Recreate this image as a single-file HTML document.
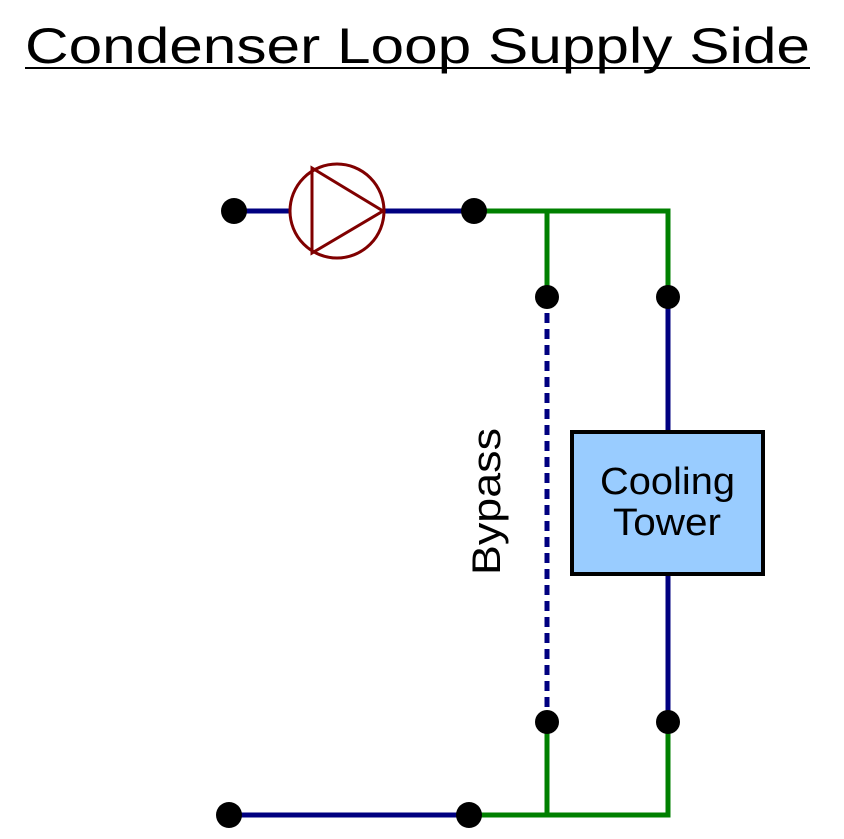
<!DOCTYPE html>
<html><head><style>body{margin:0;background:#fff}svg{display:block}</style></head><body>
<svg width="844" height="839" viewBox="0 0 844 839" xmlns="http://www.w3.org/2000/svg">
<text x="25" y="63" font-family="Liberation Sans, sans-serif" font-size="50" fill="#000" textLength="785" lengthAdjust="spacingAndGlyphs">Condenser Loop Supply Side</text>
<line x1="25" y1="68" x2="810" y2="68" stroke="#000" stroke-width="2"/>
<g stroke-width="5" fill="none">
<line x1="234" y1="211" x2="474" y2="211" stroke="#000080"/>
<polyline points="474,211 668,211 668,297" stroke="#008000"/>
<line x1="547" y1="211" x2="547" y2="297" stroke="#008000"/>
<line x1="668" y1="297" x2="668" y2="722" stroke="#000080"/>
<line x1="547" y1="297" x2="547" y2="722" stroke="#000080" stroke-dasharray="10,6"/>
<polyline points="547,722 547,815" stroke="#008000"/>
<polyline points="469,815 668,815 668,722" stroke="#008000"/>
<line x1="229" y1="815" x2="469" y2="815" stroke="#000080"/>
</g>
<circle cx="337" cy="211" r="47" fill="#fff" stroke="#800000" stroke-width="3"/>
<polygon points="312,168 383,211 312,253" fill="none" stroke="#800000" stroke-width="3"/>
<rect x="572" y="432" width="191" height="142" fill="#99ccff" stroke="#000" stroke-width="4"/>
<text x="600" y="494" font-family="Liberation Sans, sans-serif" font-size="38" fill="#000" textLength="135" lengthAdjust="spacingAndGlyphs">Cooling</text>
<text x="613" y="535" font-family="Liberation Sans, sans-serif" font-size="38" fill="#000" textLength="108" lengthAdjust="spacingAndGlyphs">Tower</text>
<text transform="translate(500,575) rotate(-90)" font-family="Liberation Sans, sans-serif" font-size="40" fill="#000" textLength="147" lengthAdjust="spacingAndGlyphs">Bypass</text>
<g fill="#000">
<circle cx="234" cy="211" r="13"/><circle cx="474" cy="211" r="13"/>
<circle cx="547" cy="297" r="12"/><circle cx="668" cy="297" r="12"/>
<circle cx="547" cy="722" r="12"/><circle cx="668" cy="722" r="12"/>
<circle cx="229" cy="815" r="13"/><circle cx="469" cy="815" r="13"/>
</g>
</svg>
</body></html>
